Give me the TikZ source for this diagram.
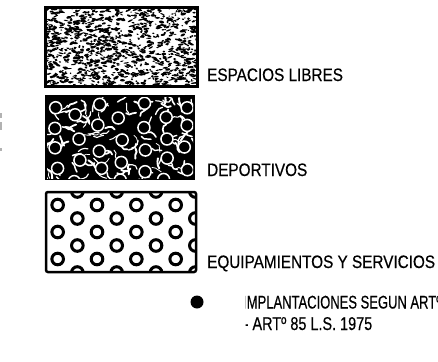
\documentclass[tikz,border=0pt]{standalone}
\usepackage{fontspec}
\newfontfamily\cond[FakeStretch=0.85,FakeBold=0.4]{Liberation Sans}
\newfontfamily\condb[FakeStretch=0.71,FakeBold=0.4]{Liberation Sans}
\newfontfamily\condc[FakeStretch=0.78,FakeBold=0.4]{Liberation Sans}
\begin{document}
\begin{tikzpicture}[x=1pt,y=-1pt]
\tikzset{
  lbl/.style={anchor=base west, inner sep=0pt, font=\cond\fontsize{18}{18}\selectfont},
  lblb/.style={anchor=base west, inner sep=0pt, font=\condb\fontsize{18.3}{18.3}\selectfont},
  lblc/.style={anchor=base west, inner sep=0pt, font=\condc\fontsize{18.5}{18.5}\selectfont},
  ring/.style={draw=black, line width=3pt},
  wring/.style={draw=white, line width=1.5pt},
  vein/.style={draw=white, line cap=round, line join=round}
}
\fill[white] (0,0) rectangle (438,361);
\useasboundingbox (0,0) rectangle (438,361);

% faint marks at the left edge
\fill[black!30] (0,113) rectangle (2.2,118);
\fill[black!30] (0,122) rectangle (2.2,130);
\fill[black!30] (0,148) rectangle (1.6,151);

% ---------- box 1 : speckle ----------
\begin{scope}
\clip (45,8) rectangle (197,86);
\pgfmathsetseed{12}
\foreach \i in {1,...,1150}{
  \pgfmathsetmacro\px{45+152*rnd}
  \pgfmathsetmacro\py{8+78*rnd}
  \pgfmathsetmacro\rx{0.8+2.2*rnd}
  \pgfmathsetmacro\ry{0.5+0.9*rnd}
  \pgfmathsetmacro\ang{-30+60*rnd}
  \fill[black,rotate around={\ang:(\px,\py)}] (\px,\py) ellipse [x radius=\rx, y radius=\ry];
}
\end{scope}
\draw[line width=3pt] (45,8) rectangle (197,86);
\node[lbl] (esp) at (207,81) {ESPACIOS LIBRES};

% ---------- box 2 : pebbles ----------
\fill[black] (45,95) rectangle (195,180);
\begin{scope}
\clip (47,97) rectangle (193,178);
\pgfmathsetseed{5}
\foreach \i in {1,...,120}{
  \pgfmathsetmacro\px{45+150*rnd}
  \pgfmathsetmacro\py{95+85*rnd}
  \pgfmathsetmacro\a{360*rnd}
  \pgfmathsetmacro\b{\a+50*rand}
  \pgfmathsetmacro\c{\b+50*rand}
  \pgfmathsetmacro\w{0.7+1.3*rnd}
  \draw[vein, line width=\w pt] (\px,\py) -- ++(\a:3.5) -- ++(\b:3.5) -- ++(\c:3.5);
}
\foreach \cc in {0,...,6}{
  \foreach \r in {0,...,3}{
    \pgfmathsetmacro\cx{55+22*\cc+3*rand}
    \pgfmathsetmacro\cy{105+22*\r+11*mod(\cc,2)+3*rand}
    \fill[black] (\cx,\cy) circle (6.2);
    \draw[wring] (\cx,\cy) circle (6);
  }
}
\end{scope}
\node[lbl] (dep) at (207,176) {DEPORTIVOS};

% ---------- box 3 : rings ----------
\begin{scope}
\clip (46,192) rectangle (196,272);
\foreach \k in {0,...,8}{
  \pgfmathsetmacro\cx{38+19.67*\k}
  \pgfmathtruncatemacro\odd{mod(\k,2)}
  \ifnum\odd=1
    \foreach \cy in {205,232,259}{\draw[ring] (\cx,\cy) circle (5.8);}
  \else
    \foreach \cy in {191.5,218.5,245.5,272.5}{\draw[ring] (\cx,\cy) circle (5.8);}
  \fi
}
\end{scope}
\draw[line width=2.5pt, rounded corners=2pt] (46,192) rectangle (196,272);
\node[lbl] (equ) at (207,268) {EQUIPAMIENTOS Y SERVICIOS};

% ---------- bottom entry ----------
\fill[black] (197,302) circle (6.5);
\coordinate (dot) at (197,302);
\begin{scope}
\clip (245.5,285) rectangle (438,361);
\node[lblb] (imp) at (243,308.5) {IMPLANTACIONES SEGUN ARTº};
\node[lblc] (art) at (243.5,330) {- ARTº 85 L.S. 1975};
\end{scope}
\end{tikzpicture}
\end{document}
